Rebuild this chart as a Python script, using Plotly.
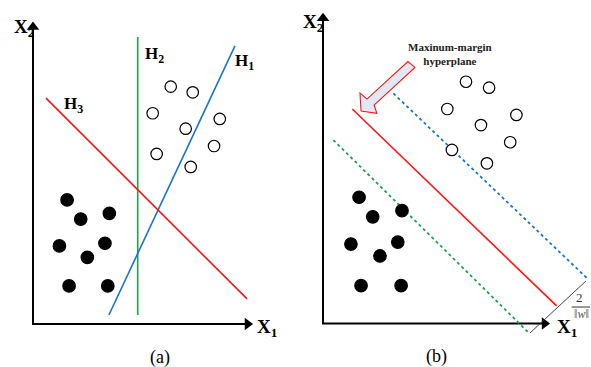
import plotly.graph_objects as go

# ---------------- data (schematic units) ----------------
# Panel (a)
open_a_x = [6.26, 7.26, 5.44, 6.94, 8.49, 8.23, 5.62, 7.17]
open_a_y = [10.79, 10.53, 9.58, 8.88, 9.32, 8.09, 7.73, 7.14]
filled_a_x = [1.55, 2.17, 3.47, 1.20, 3.27, 2.47, 1.64, 3.40]
filled_a_y = [5.64, 4.77, 5.03, 3.55, 3.67, 3.03, 1.73, 1.73]
h1_x = [3.45, 9.18]
h1_y = [0.41, 12.64]
h2_x = [4.76, 4.76]
h2_y = [0.41, 13.05]
h3_x = [0.59, 9.73]
h3_y = [10.27, 1.14]
labels_a = ["H<sub>1</sub>", "H<sub>2</sub>", "H<sub>3</sub>"]
labels_a_x = [9.62, 5.50, 1.85]
labels_a_y = [11.91, 12.23, 9.95]

# Panel (b)
open_b_x = [6.50, 7.55, 5.65, 7.18, 8.79, 8.51, 5.86, 7.45]
open_b_y = [10.99, 10.72, 9.75, 9.02, 9.48, 8.24, 7.89, 7.28]
filled_b_x = [1.64, 2.26, 3.59, 1.27, 3.40, 2.59, 1.73, 3.55]
filled_b_y = [5.74, 4.85, 5.13, 3.61, 3.70, 3.07, 1.72, 1.72]
hyper_x = [1.33, 10.62]
hyper_y = [9.75, 0.80]
upper_x = [3.20, 12.01]
upper_y = [10.46, 2.05]
lower_x = [0.47, 9.38]
lower_y = [8.34, -0.45]
margin_x = [9.41, 11.95]
margin_y = [-0.43, 1.93]
arrow_poly_x = [3.86, 4.18, 2.32, 2.45, 1.73, 1.68, 2.00]
arrow_poly_y = [11.91, 11.64, 9.93, 9.55, 9.66, 10.48, 10.20]

# axes extents
xa_end, ya_end = 10.0, 13.8
xb_end, yb_end = 10.32, 14.17

SERIF = "Liberation Serif"
RED, BLUE, GREEN = "#ff1414", "#1b74c6", "#1fa34a"

fig = go.Figure()

def markers(xs, ys, filled, xr, yr):
    fig.add_trace(go.Scatter(
        x=xs, y=ys, mode="markers", xaxis=xr, yaxis=yr, hoverinfo="skip",
        marker=dict(size=12.5 if filled else 11.5,
                    color="black" if filled else "white",
                    line=dict(color="black", width=1.2)),
        showlegend=False))

def line(xs, ys, color, xr, yr, dash="solid", width=1.6):
    fig.add_trace(go.Scatter(
        x=xs, y=ys, mode="lines", xaxis=xr, yaxis=yr, hoverinfo="skip",
        line=dict(color=color, width=width, dash=dash), showlegend=False))

def axes_arrows(xe, ye, xr, yr):
    fig.add_trace(go.Scatter(
        x=[0, 0, xe - 0.25], y=[ye - 0.3, 0, 0], mode="lines", xaxis=xr, yaxis=yr,
        hoverinfo="skip", line=dict(color="black", width=2), showlegend=False))
    fig.add_trace(go.Scatter(
        x=[0], y=[ye - 0.3], mode="markers", xaxis=xr, yaxis=yr, hoverinfo="skip",
        marker=dict(symbol="triangle-up", size=11, color="black"), showlegend=False))
    fig.add_trace(go.Scatter(
        x=[xe - 0.25], y=[0], mode="markers", xaxis=xr, yaxis=yr, hoverinfo="skip",
        marker=dict(symbol="triangle-right", size=11, color="black"), showlegend=False))

# Panel (a)
axes_arrows(xa_end, ya_end, "x", "y")
line(h2_x, h2_y, GREEN, "x", "y")
line(h1_x, h1_y, BLUE, "x", "y")
line(h3_x, h3_y, RED, "x", "y")
markers(open_a_x, open_a_y, False, "x", "y")
markers(filled_a_x, filled_a_y, True, "x", "y")

# Panel (b)
axes_arrows(xb_end, yb_end, "x2", "y2")
line(upper_x, upper_y, BLUE, "x2", "y2", dash="dot", width=1.8)
line(lower_x, lower_y, GREEN, "x2", "y2", dash="dot", width=1.8)
line(hyper_x, hyper_y, RED, "x2", "y2")
line(margin_x, margin_y, "#333333", "x2", "y2", width=0.9)
markers(open_b_x, open_b_y, False, "x2", "y2")
markers(filled_b_x, filled_b_y, True, "x2", "y2")

# block arrow
path = "M " + " L ".join(f"{x},{y}" for x, y in zip(arrow_poly_x, arrow_poly_y)) + " Z"
shapes = [dict(type="path", path=path, xref="x2", yref="y2",
               fillcolor="#e3e9f4", line=dict(color=RED, width=1.1))]
# fraction bar
shapes.append(dict(type="line", xref="x2", yref="y2", x0=11.30, x1=12.14, y0=0.75, y1=0.75,
                   line=dict(color="#333333", width=1)))

annotations = []

def txt(t, x, y, xr, yr, size, bold=True, color="black"):
    annotations.append(dict(text=f"<b>{t}</b>" if bold else t, x=x, y=y, xref=xr, yref=yr,
                            showarrow=False, font=dict(family=SERIF, size=size, color=color)))

txt("X<sub>2</sub>", -0.40, 13.45, "x", "y", 19)
txt("X<sub>1</sub>", 10.62, -0.18, "x", "y", 19)
txt("X<sub>2</sub>", -0.42, 13.66, "x2", "y2", 19)
txt("X<sub>1</sub>", 11.10, -0.22, "x2", "y2", 19)
for t, x, y in zip(labels_a, labels_a_x, labels_a_y):
    txt(t, x, y, "x", "y", 17)
txt("(a)", 5.77, -1.50, "x", "y", 18, bold=False)
txt("(b)", 5.18, -1.52, "x2", "y2", 18, bold=False)
txt("Maxinum-margin<br>hyperplane", 5.77, 12.23, "x2", "y2", 11, color="#222222")
txt("2", 11.66, 1.16, "x2", "y2", 13, bold=False, color="#333333")
txt("‖<i>w</i>‖", 11.74, 0.42, "x2", "y2", 12, bold=False, color="#555555")

fig.update_layout(
    width=591, height=367, margin=dict(l=0, r=0, t=0, b=0),
    paper_bgcolor="white", plot_bgcolor="white",
    xaxis=dict(domain=[0, 0.5], range=[-1.5, 11.932], visible=False, fixedrange=True),
    yaxis=dict(domain=[0, 1], range=[-1.9545, 14.727], visible=False, fixedrange=True),
    xaxis2=dict(domain=[0.5, 1], range=[-1.25, 12.182], visible=False, anchor="y2", fixedrange=True),
    yaxis2=dict(domain=[0, 1], range=[-1.977, 14.705], visible=False, anchor="x2", fixedrange=True),
    shapes=shapes, annotations=annotations, showlegend=False,
)

fig.write_html("out.html", config={"displayModeBar": False},
               post_script="document.body.style.margin='0';document.body.style.overflow='hidden';")
